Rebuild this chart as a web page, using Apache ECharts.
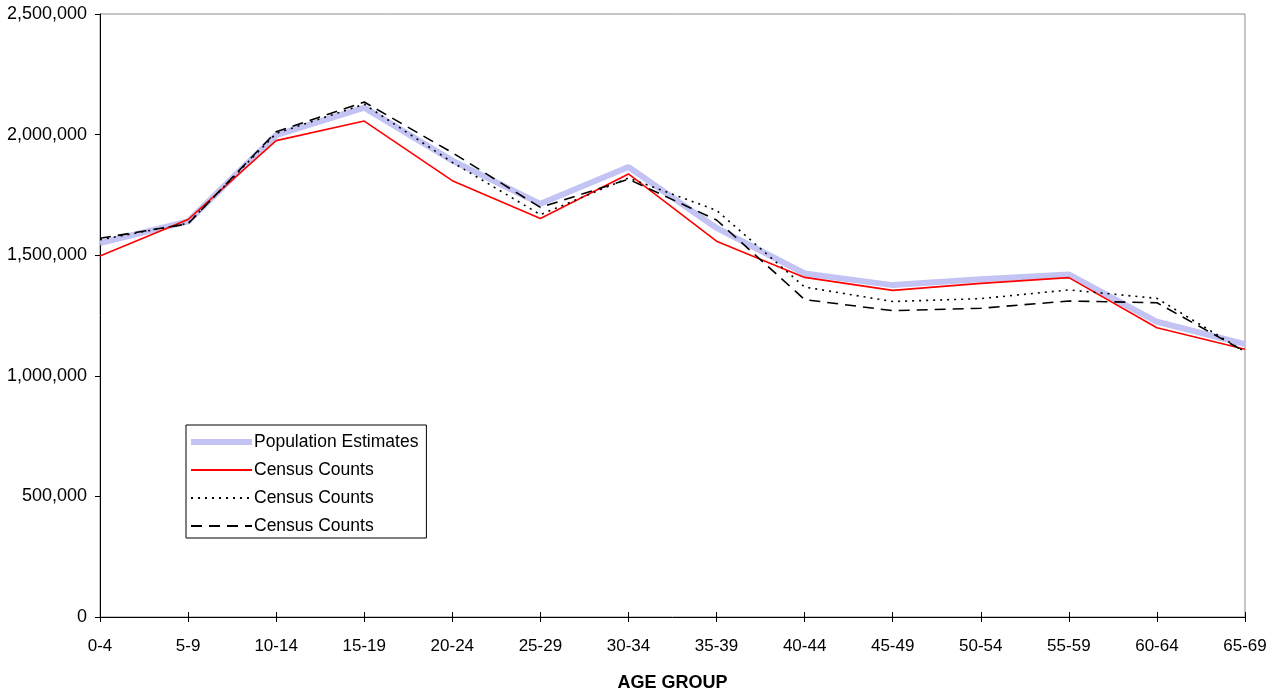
<!DOCTYPE html>
<html>
<head>
<meta charset="utf-8">
<script src="https://cdn.jsdelivr.net/npm/echarts@6/dist/echarts.min.js"></script>
<style>
  html, body { margin: 0; padding: 0; background: #fff; }
  #chart { width: 1279px; height: 695px; }
</style>
</head>
<body>
<div id="chart"></div>
<script>
// Age groups along the horizontal axis
const ageGroups = ['0-4', '5-9', '10-14', '15-19', '20-24', '25-29', '30-34', '35-39',
                   '40-44', '45-49', '50-54', '55-59', '60-64', '65-69'];

// Population estimates by age group
const populationEstimates = [1550000, 1640000, 1998000, 2112000, 1892000, 1713000, 1866000,
                             1613000, 1424000, 1376000, 1400000, 1420000, 1224000, 1131000];

// Census counts, three series
const censusCountsA = [1497000, 1648000, 1975000, 2056000, 1809000, 1652000, 1837000,
                       1558000, 1408000, 1354000, 1383000, 1407000, 1199000, 1110000];
const censusCountsB = [1564000, 1632000, 2005000, 2126000, 1885000, 1668000, 1820000,
                       1686000, 1368000, 1308000, 1320000, 1356000, 1321000, 1100000];
const censusCountsC = [1570000, 1630000, 2012000, 2135000, 1925000, 1698000, 1815000,
                       1646000, 1316000, 1270000, 1280000, 1310000, 1303000, 1100000];

const yTicks = { min: 0, max: 2500000, interval: 500000 };

const FONT = '"Liberation Sans", Arial, sans-serif';

const chart = echarts.init(document.getElementById('chart'), null, { renderer: 'canvas' });

const hiddenSymbol = { opacity: 0 };

chart.setOption({
  backgroundColor: '#ffffff',
  animation: false,
  textStyle: { fontFamily: FONT, color: '#000' },
  grid: {
    left: 100, right: 34, top: 14, bottom: 78,
    outerBoundsMode: 'none',
    containLabel: false,
    show: true, borderColor: '#8c8c8c', borderWidth: 1
  },
  legend: {
    orient: 'vertical',
    left: 186, top: 425,
    padding: [8, 8, 3, 2],
    itemWidth: 61, itemHeight: 14, itemGap: 10,
    borderColor: '#000', borderWidth: 1,
    backgroundColor: '#fff',
    textStyle: { fontFamily: FONT, fontSize: 17.5, color: '#000', padding: [0, 0, 0, -3] },
    data: [
      { name: 'Population Estimates', itemStyle: hiddenSymbol, lineStyle: { width: 6 } },
      { name: 'Census Counts', itemStyle: hiddenSymbol },
      { name: 'Census Counts ', itemStyle: hiddenSymbol },
      { name: 'Census Counts  ', itemStyle: hiddenSymbol }
    ],
    formatter: name => name.trim()
  },
  xAxis: [{
    type: 'category',
    data: ageGroups,
    boundaryGap: false,
    name: 'AGE GROUP',
    nameLocation: 'middle',
    nameGap: 57,
    nameTextStyle: { fontFamily: FONT, fontSize: 18, fontWeight: 'bold', color: '#000' },
    axisLine: { lineStyle: { color: '#000', width: 1 } },
    axisTick: { show: true, length: 5, lineStyle: { color: '#000' } },
    axisLabel: { fontFamily: FONT, fontSize: 17, color: '#000', margin: 21 },
    splitLine: { show: false }
  }, {
    // inner half of the crossing tick marks
    type: 'category',
    data: ageGroups,
    boundaryGap: false,
    position: 'bottom',
    axisLine: { show: false },
    axisTick: { show: true, inside: true, length: 5, lineStyle: { color: '#000' } },
    axisLabel: { show: false },
    splitLine: { show: false }
  }],
  yAxis: {
    type: 'value',
    min: yTicks.min, max: yTicks.max, interval: yTicks.interval,
    axisLine: { show: true, lineStyle: { color: '#000', width: 1 } },
    axisTick: { show: true, length: 5, lineStyle: { color: '#000' } },
    axisLabel: {
      fontFamily: FONT, fontSize: 18, color: '#000', margin: 13,
      formatter: v => v.toLocaleString('en-US')
    },
    splitLine: { show: false }
  },
  series: [
    {
      name: 'Population Estimates', type: 'line', data: populationEstimates,
      symbol: 'none', z: 1,
      lineStyle: { color: '#c3c3f4', width: 6 },
      itemStyle: { color: '#c3c3f4' }
    },
    {
      name: 'Census Counts', type: 'line', data: censusCountsA,
      symbol: 'none', z: 3,
      lineStyle: { color: '#ff0000', width: 1.6 },
      itemStyle: { color: '#ff0000' }
    },
    {
      name: 'Census Counts ', type: 'line', data: censusCountsB,
      symbol: 'none', z: 3,
      lineStyle: { color: '#000', width: 1.6, type: [2, 5] },
      itemStyle: { color: '#000' }
    },
    {
      name: 'Census Counts  ', type: 'line', data: censusCountsC,
      symbol: 'none', z: 3,
      lineStyle: { color: '#000', width: 1.6, type: [11, 7] },
      itemStyle: { color: '#000' }
    }
  ]
});
</script>
</body>
</html>
